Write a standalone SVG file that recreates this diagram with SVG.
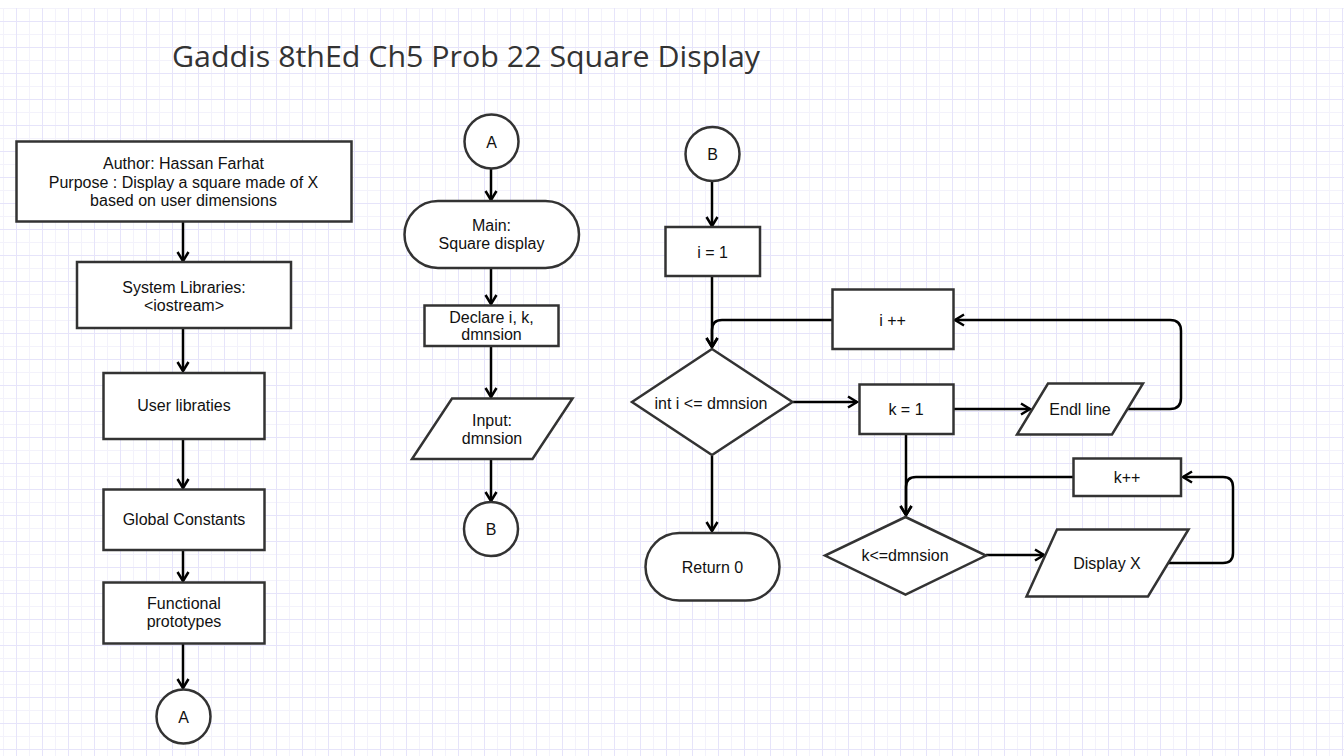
<svg xmlns="http://www.w3.org/2000/svg" width="1344" height="756" viewBox="0 0 1344 756">
<style>
.n{fill:#fff;stroke:#333;stroke-width:2.5}
.t{font-family:"Liberation Sans",Arial,sans-serif;font-size:16px;fill:#111;text-anchor:middle}
.c{fill:none;stroke:#000;stroke-width:2.5;marker-end:url(#ar)}
.title{font-family:"Open Sans","Noto Sans",sans-serif;font-size:30px;fill:#333}
</style>
<defs>
<pattern id="grid" patternUnits="userSpaceOnUse" x="3" y="8" width="26" height="26">
<path d="M0.5,0V26M0,0.5H26" stroke="#f3f2fb" stroke-width="1" fill="none"/>
<path d="M13.5,0V26M0,13.5H26" stroke="#e6e4fa" stroke-width="1" fill="none"/>
</pattern>
<marker id="ar" markerUnits="userSpaceOnUse" markerWidth="14" markerHeight="14" refX="10" refY="7" orient="auto">
<path d="M1,1.5L10,7L1,12.5" fill="none" stroke="#000" stroke-width="2.5"/>
</marker>
</defs>
<rect x="0" y="0" width="1344" height="756" fill="#fff"/>
<rect x="0" y="8" width="1344" height="748" fill="url(#grid)"/>
<text class="title" x="172" y="67" textLength="588" lengthAdjust="spacingAndGlyphs">Gaddis 8thEd Ch5 Prob 22 Square Display</text>

<g id="connectors">
<path class="c" d="M183,222V261"/>
<path class="c" d="M183,329V371"/>
<path class="c" d="M183,440V488"/>
<path class="c" d="M183,551V581"/>
<path class="c" d="M183,644V688"/>
<path class="c" d="M491,168V200"/>
<path class="c" d="M491,268V304"/>
<path class="c" d="M491,346V397"/>
<path class="c" d="M491,460V501"/>
<path class="c" d="M712,181V226"/>
<path class="c" d="M712,277V347"/>
<path class="c" d="M832,320H722Q712,320 712,330V347"/>
<path class="c" d="M793,402H857"/>
<path class="c" d="M954,409H1030"/>
<path class="c" d="M1127,409H1170Q1181,409 1181,398V331Q1181,320 1170,320H955"/>
<path class="c" d="M906,435V515"/>
<path class="c" d="M1073,477H916Q906,477 906,487V515"/>
<path class="c" d="M986,555H1044"/>
<path class="c" d="M1168,563H1223Q1233,563 1233,553V487Q1233,477 1223,477H1183"/>
<path class="c" d="M712,456V531"/>
</g>

<g id="author"><rect class="n" x="16.5" y="141.5" width="335" height="80"/>
<text class="t" x="183.5" y="168.5">Author: Hassan Farhat</text>
<text class="t" x="183.5" y="187.5">Purpose : Display a square made of X</text>
<text class="t" x="183.5" y="205.5">based on user dimensions</text></g>
<g id="syslib"><rect class="n" x="77" y="262" width="214" height="66"/>
<text class="t" x="184" y="292.5">System Libraries:</text>
<text class="t" x="184" y="310.5">&lt;iostream&gt;</text></g>
<g id="userlib"><rect class="n" x="103.5" y="373" width="161" height="66"/>
<text class="t" x="184" y="410.5">User libraties</text></g>
<g id="globals"><rect class="n" x="103.5" y="489.5" width="161" height="60.5"/>
<text class="t" x="184" y="524.5">Global Constants</text></g>
<g id="protos"><rect class="n" x="103.5" y="582.5" width="161" height="61"/>
<text class="t" x="184" y="608.5">Functional</text>
<text class="t" x="184" y="626.5">prototypes</text></g>
<g id="connA1"><circle class="n" cx="183.5" cy="716.5" r="27"/>
<text class="t" x="183.5" y="722.5">A</text></g>

<g id="connA2"><circle class="n" cx="491.5" cy="141.5" r="27"/>
<text class="t" x="491.5" y="147.5">A</text></g>
<g id="main"><rect class="n" x="404.5" y="201" width="174.5" height="67" rx="33.5"/>
<text class="t" x="491.5" y="230.5">Main:</text>
<text class="t" x="491.5" y="248.5">Square display</text></g>
<g id="declare"><rect class="n" x="424.5" y="305.5" width="134" height="40.5"/>
<text class="t" x="491.5" y="322.5">Declare i, k,</text>
<text class="t" x="491.5" y="339.5">dmnsion</text></g>
<g id="input"><polygon class="n" points="452,398.5 572.5,398.5 532.5,459 412,459"/>
<text class="t" x="492" y="425.5">Input:</text>
<text class="t" x="492" y="443.5">dmnsion</text></g>
<g id="connB1"><circle class="n" cx="491" cy="529" r="27"/>
<text class="t" x="491" y="535">B</text></g>

<g id="connB2"><circle class="n" cx="712.5" cy="154" r="27"/>
<text class="t" x="712.5" y="160">B</text></g>
<g id="i1"><rect class="n" x="665.5" y="227" width="94.5" height="49"/>
<text class="t" x="712.5" y="257.5">i = 1</text></g>
<g id="iinc"><rect class="n" x="832.5" y="289.5" width="121" height="59.5"/>
<text class="t" x="892.5" y="325.5">i ++</text></g>
<g id="icond"><polygon class="n" points="712,349 792.5,402 712,455 632,402"/>
<text class="t" x="711" y="408.5">int i &lt;= dmnsion</text></g>
<g id="k1"><rect class="n" x="859.5" y="384.5" width="94" height="49.5"/>
<text class="t" x="906" y="414.5">k = 1</text></g>
<g id="endl"><polygon class="n" points="1048,383.5 1143,383.5 1112,434.5 1017,434.5"/>
<text class="t" x="1080" y="414.5">Endl line</text></g>
<g id="kinc"><rect class="n" x="1073.5" y="458.5" width="107.5" height="37.5"/>
<text class="t" x="1127" y="482.5">k++</text></g>
<g id="kcond"><polygon class="n" points="905.5,517 986,555.5 905.5,594.5 825,555.5"/>
<text class="t" x="905" y="560.5">k&lt;=dmnsion</text></g>
<g id="display"><polygon class="n" points="1057,529.5 1188.5,529.5 1148,596.5 1026.5,596.5"/>
<text class="t" x="1107" y="568.5">Display X</text></g>
<g id="ret"><rect class="n" x="645.5" y="533" width="134" height="67.5" rx="33.75"/>
<text class="t" x="712.5" y="572.5">Return 0</text></g>
</svg>
